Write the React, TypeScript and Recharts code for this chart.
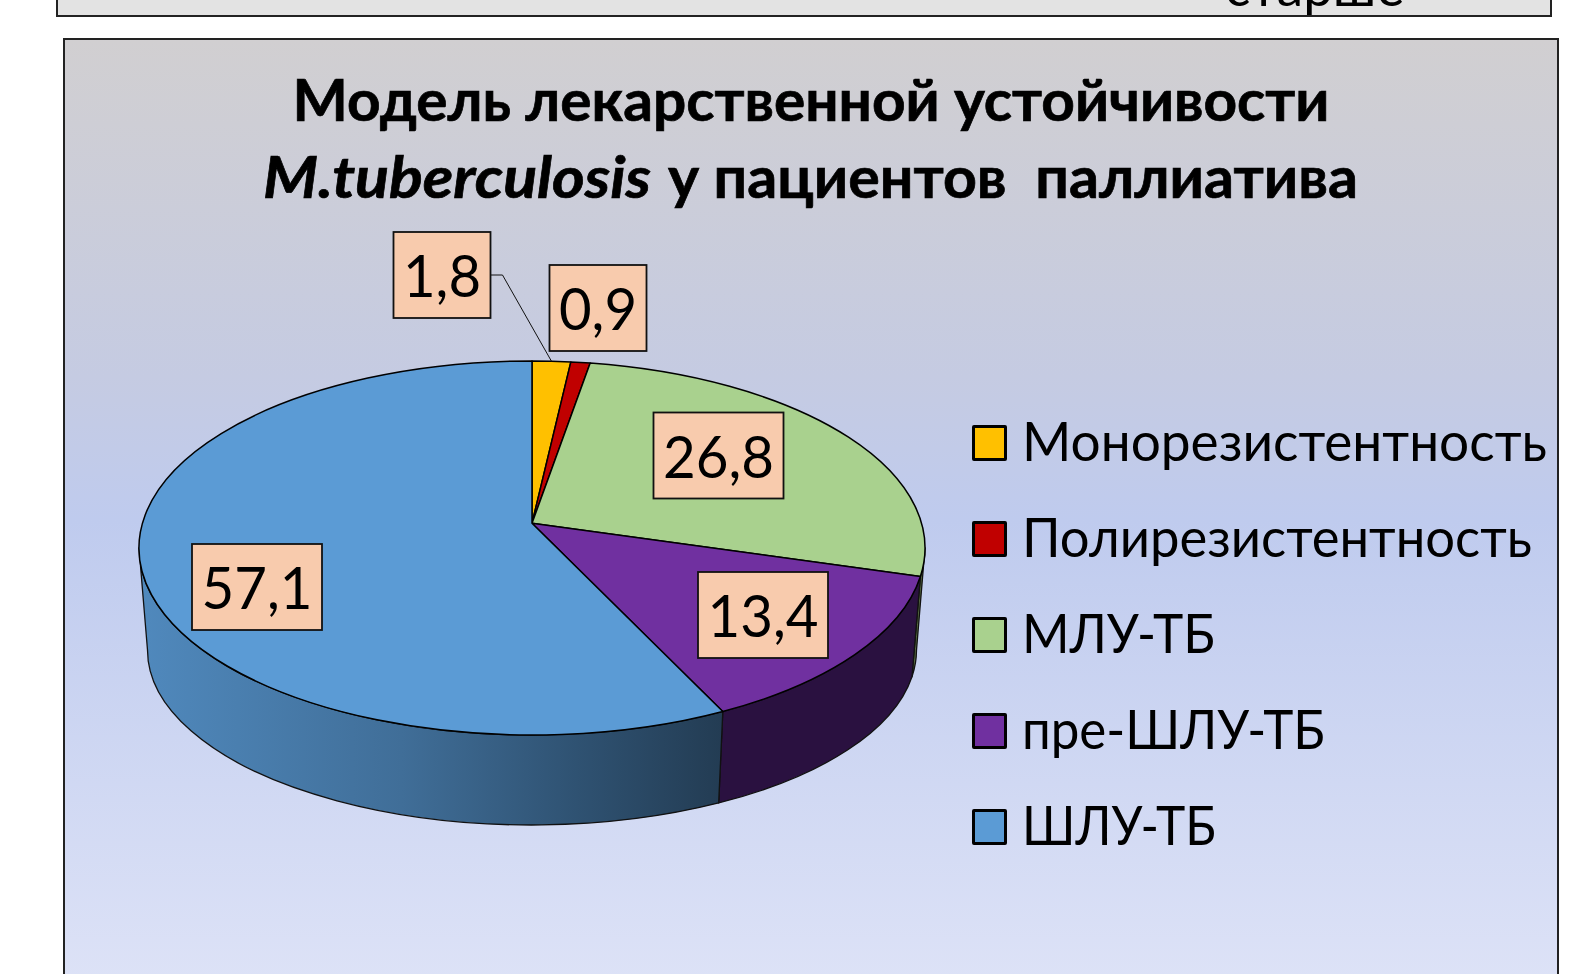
import * as React from "react"
import { Cell, Legend, Pie, PieChart } from "recharts"

const categories = ["Монорезистентность", "Полирезистентность", "МЛУ-ТБ", "пре-ШЛУ-ТБ", "ШЛУ-ТБ"]
const shares = [1.8, 0.9, 26.8, 13.4, 57.1]
const topColors = ["#ffc000", "#c00000", "#a9d18e", "#7030a0", "#5b9bd5"]
const wallColors = ["#7f6000", "#600000", "#55693f", "#2a1140", "url(#blueWall)"]

const FONT = "Lato, 'Open Sans', sans-serif"

// perspective of the tilted disc: the apex sits above the centre of the ellipse
const SKEW = 0.132
const topRim = { cx: 532, cy: 548, rx: 393, ry: 187 }
const bottomRim = { cx: 532, cy: 650, rx: 384.5, ry: 175 }
const LAST_VISIBLE = (Math.acos(-SKEW) * 180) / Math.PI

const labelCenters = [
  [442, 275],
  [598, 308],
  [718.5, 455.5],
  [763, 615],
  [257, 587],
]
// the source font is narrower than Lato, so text widths are pinned
const legendTextWidths = [525, 510, 193, 303, 194]

const rows = categories.map((name, i) => ({ name, value: shares[i], fill: topColors[i] }))

function project(theta: number, rim: typeof topRim) {
  const rad = (theta * Math.PI) / 180
  const u = Math.sin(rad)
  const w = -Math.cos(rad)
  const den = 1 - SKEW * w
  return {
    x: rim.cx + (rim.rx * Math.sqrt(1 - SKEW * SKEW) * u) / den,
    y: rim.cy + (rim.ry * (w - SKEW)) / den,
  }
}

function isLarge(a: number, b: number, rim: typeof topRim) {
  const param = (t: number) => {
    const p = project(t, rim)
    return (Math.atan2((p.x - rim.cx) / rim.rx, -(p.y - rim.cy) / rim.ry) * 180) / Math.PI
  }
  let d = param(b) - param(a)
  if (d < 0) d += 360
  return b - a > 1 && d > 180 ? 1 : 0
}

function TopSlice(props: any) {
  const a = 90 - props.startAngle
  const b = 90 - props.endAngle
  const p1 = project(a, topRim)
  const p2 = project(b, topRim)
  const apexY = topRim.cy - topRim.ry * SKEW
  const d = `M${topRim.cx},${apexY} L${p1.x},${p1.y} A${topRim.rx},${topRim.ry} 0 ${isLarge(a, b, topRim)} 1 ${p2.x},${p2.y} Z`
  return <path d={d} fill={props.fill} stroke="#000" strokeWidth={1.5} strokeLinejoin="round" />
}

function WallSlice(props: any) {
  const a = Math.max(90 - props.startAngle, LAST_VISIBLE)
  const b = Math.min(90 - props.endAngle, 360 - LAST_VISIBLE)
  if (b <= a) return null
  const t1 = project(a, topRim)
  const t2 = project(b, topRim)
  const b1 = project(a, bottomRim)
  const b2 = project(b, bottomRim)
  const d =
    `M${t1.x},${t1.y} A${topRim.rx},${topRim.ry} 0 0 1 ${t2.x},${t2.y} ` +
    `L${b2.x},${b2.y} A${bottomRim.rx},${bottomRim.ry} 0 0 0 ${b1.x},${b1.y} Z`
  return <path d={d} fill={props.fill} stroke="#111" strokeWidth={1.3} strokeLinejoin="round" />
}

function ValueLabel(props: any) {
  const { index, value, midAngle } = props
  const [x, y] = labelCenters[index]
  const text = String(value).replace(".", ",")
  const w = text.length > 3 ? 130 : 97
  const h = 86
  const end = project(90 - midAngle, topRim)
  return (
    <g>
      {index === 0 && (
        <polyline
          points={`${x + w / 2},${y} ${x + w / 2 + 12},${y} ${end.x},${end.y}`}
          fill="none"
          stroke="#111"
          strokeWidth={1}
        />
      )}
      <rect x={x - w / 2} y={y - h / 2} width={w} height={h} fill="#f8cbad" stroke="#111" strokeWidth={1.8} />
      <text
        x={x}
        y={y + 22}
        textAnchor="middle"
        fontFamily={FONT}
        fontSize={59}
        fill="#000"
        textLength={text.length > 3 ? 111 : 78}
        lengthAdjust="spacingAndGlyphs"
      >
        {text}
      </text>
    </g>
  )
}

function LegendList({ payload }: any) {
  const items = (payload || []).filter((entry: any) => !wallColors.includes(entry.color))
  return (
    <div>
      {items.map((entry: any, i: number) => (
        <div key={entry.value} style={{ display: "flex", alignItems: "center", height: 96 }}>
          <span
            style={{
              display: "inline-block",
              width: 29,
              height: 30,
              marginRight: 15,
              background: entry.color,
              border: "3px solid #000",
              borderRadius: 2,
            }}
          />
          <svg width={545} height={90}>
            <text
              x={0}
              y={63}
              fontFamily={FONT}
              fontSize={55}
              fill="#000"
              textLength={legendTextWidths[i]}
              lengthAdjust="spacingAndGlyphs"
            >
              {entry.value}
            </text>
          </svg>
        </div>
      ))}
    </div>
  )
}

export default function App() {
  return (
    <div style={{ position: "absolute", left: 0, top: 0, width: 1587, height: 974, overflow: "hidden", background: "#fff" }}>
      {/* bottom of the table above the chart, cut off by the crop */}
      <div
        style={{
          position: "absolute",
          left: 56,
          top: -4,
          width: 1492,
          height: 17,
          background: "#e3e3e3",
          border: "2px solid #222",
          overflow: "hidden",
        }}
      >
        <span
          style={{
            position: "absolute",
            left: 1167,
            top: -47,
            fontFamily: FONT,
            fontSize: 53,
            lineHeight: "70px",
            color: "#000",
          }}
        >
          старше
        </span>
      </div>
      <div
        style={{
          position: "absolute",
          left: 63,
          top: 38,
          width: 1492,
          height: 960,
          border: "2px solid #222",
          background: "linear-gradient(180deg, #d1cfd1 0%, #c5cbe2 35%, #bfcbee 50%, #dee3f7 100%)",
        }}
      />
      <div style={{ position: "absolute", left: 0, top: 0 }}>
        <PieChart width={1587} height={974} margin={{ top: 0, right: 0, bottom: 0, left: 0 }}>
          <defs>
            <linearGradient id="blueWall" x1="0" y1="0" x2="1" y2="0">
              <stop offset="0%" stopColor="#5089bd" />
              <stop offset="45%" stopColor="#406e98" />
              <stop offset="75%" stopColor="#2f5272" />
              <stop offset="100%" stopColor="#233c53" />
            </linearGradient>
          </defs>
          <text
            x={811}
            y={121}
            textAnchor="middle"
            fontFamily={FONT}
            fontWeight={700}
            fontSize={58}
            stroke="#000"
            strokeWidth={0.7}
            textLength={1037}
            lengthAdjust="spacingAndGlyphs"
          >
            Модель лекарственной устойчивости
          </text>
          <text
            x={263}
            y={198}
            fontFamily={FONT}
            fontWeight={700}
            fontStyle="italic"
            fontSize={58}
            stroke="#000"
            strokeWidth={0.7}
            textLength={388}
            lengthAdjust="spacingAndGlyphs"
          >
            M.tuberculosis
          </text>
          <text
            x={668}
            y={198}
            fontFamily={FONT}
            fontWeight={700}
            fontSize={58}
            stroke="#000"
            strokeWidth={0.7}
            textLength={690}
            lengthAdjust="spacingAndGlyphs"
            style={{ whiteSpace: "pre" }}
          >
            у пациентов  паллиатива
          </text>
          <Pie
            data={rows}
            dataKey="value"
            nameKey="name"
            cx={532}
            cy={548}
            outerRadius={393}
            startAngle={90}
            endAngle={-270}
            paddingAngle={0}
            legendType="none"
            isAnimationActive={false}
            shape={WallSlice}
            inactiveShape={WallSlice}
            activeShape={WallSlice}
            label={false}
            labelLine={false}
          >
            {rows.map((r, i) => (
              <Cell key={r.name} fill={wallColors[i]} />
            ))}
          </Pie>
          <Pie
            data={rows}
            dataKey="value"
            nameKey="name"
            cx={532}
            cy={548}
            outerRadius={393}
            startAngle={90}
            endAngle={-270}
            paddingAngle={0}
            isAnimationActive={false}
            shape={TopSlice}
            inactiveShape={TopSlice}
            activeShape={TopSlice}
            label={ValueLabel}
            labelLine={false}
          />
          <Legend
            layout="vertical"
            align="right"
            verticalAlign="top"
            itemSorter={null}
            wrapperStyle={{ left: 972, top: 395, width: 600, right: "auto" }}
            content={LegendList}
          />
        </PieChart>
      </div>
    </div>
  )
}
